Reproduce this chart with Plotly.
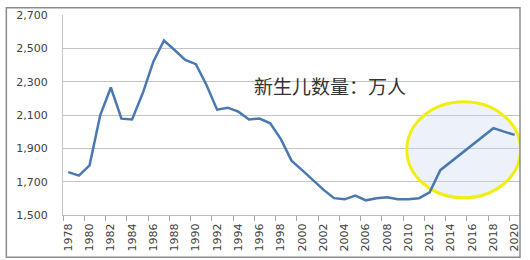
import plotly.graph_objects as go

years = list(range(1978, 2021))
births = [1757, 1736, 1798, 2098, 2265, 2078, 2073, 2230, 2420, 2547,
          2490, 2430, 2405, 2280, 2132, 2144, 2120, 2073, 2079, 2050,
          1955, 1826, 1769, 1711, 1652, 1601, 1594, 1617, 1588, 1600,
          1607, 1594, 1594, 1601, 1636, 1769, 1820, 1870, 1920, 1970,
          2021, 2000, 1981]
y_ticks = [1500, 1700, 1900, 2100, 2300, 2500, 2700]
x_label_years = list(range(1978, 2021, 2))
note_text = "新生儿数量：万人"

fig = go.Figure()
fig.add_trace(go.Scatter(x=years, y=births, mode="lines",
                         line=dict(color="#4a78b0", width=2.5),
                         hoverinfo="skip", showlegend=False))

tickfont = dict(family="DejaVu Sans", size=11, color="#404040")

fig.update_layout(
    width=530, height=260,
    margin=dict(l=63, r=10, t=9, b=45),
    paper_bgcolor="white", plot_bgcolor="white",
    xaxis=dict(
        range=[1977.5, 2020.5],
        tickmode="array", tickvals=x_label_years,
        ticktext=[str(y) for y in x_label_years],
        tickangle=-90, tickfont=tickfont,
        ticks="", showgrid=False, zeroline=False,
        showline=True, linecolor="#bdbdbd", linewidth=1,
        minor=dict(tickmode="linear", tick0=1977.5, dtick=2,
                   ticks="outside", ticklen=5, tickcolor="#a6a6a6",
                   showgrid=False),
        ticklabelstandoff=3,
    ),
    yaxis=dict(
        range=[1500, 2700], tickmode="array", tickvals=y_ticks,
        tickformat=",", tickfont=tickfont,
        showgrid=True, gridcolor="#c4c4c4", gridwidth=1,
        zeroline=False, showline=True, linecolor="#c4c4c4", linewidth=1,
        ticks="", ticklabelstandoff=12,
    ),
    shapes=[
        dict(type="circle", xref="x", yref="y",
             x0=2009.85, x1=2020.56, y0=1603, y1=2179,
             line=dict(color="#f2ee10", width=3),
             fillcolor="rgba(200,215,240,0.35)", layer="between"),
        dict(type="rect", xref="paper", yref="paper",
             x0=-0.124, x1=1.0, y0=-0.211, y1=1.036,
             line=dict(color="#8c8c8c", width=1.5),
             fillcolor="rgba(0,0,0,0)", layer="above"),
    ],
    annotations=[
        dict(text=note_text, xref="paper", yref="paper",
             x=0.584, y=0.723, showarrow=False,
             font=dict(family="Noto Sans CJK SC", size=19, color="#333333")),
    ],
)

fig.write_html("out.html")
